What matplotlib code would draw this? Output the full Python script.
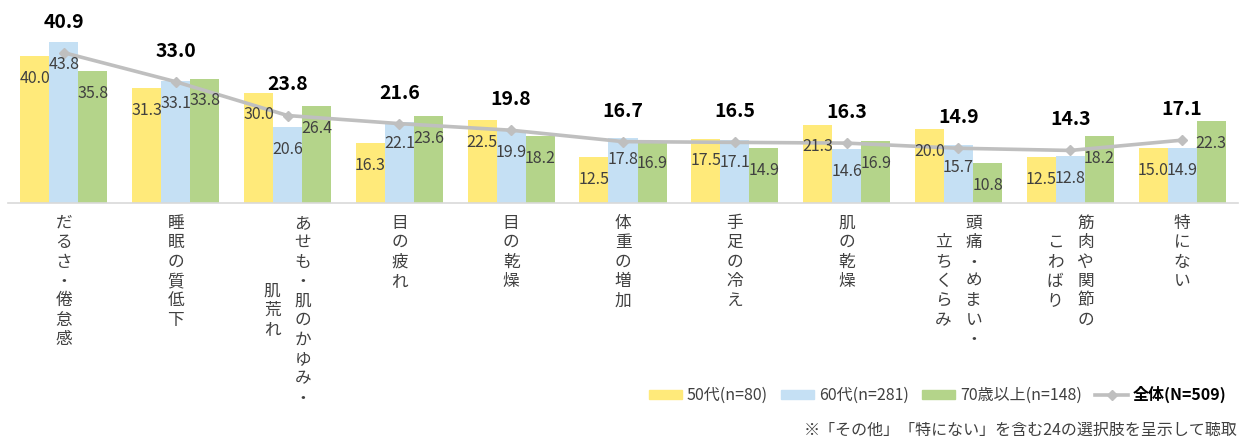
import matplotlib
matplotlib.use("Agg")
import matplotlib.pyplot as plt
from matplotlib.patches import Patch
from matplotlib.lines import Line2D
import numpy as np

plt.rcParams['font.family'] = ['Noto Sans CJK JP', 'DejaVu Sans']

# category labels, split into vertical columns (right column first)
label_cols = [['だるさ・倦怠感'], ['睡眠の質低下'], ['あせも・肌のかゆみ・', '肌荒れ'],
              ['目の疲れ'], ['目の乾燥'], ['体重の増加'], ['手足の冷え'], ['肌の乾燥'],
              ['頭痛・めまい・', '立ちくらみ'], ['筋肉や関節の', 'こわばり'], ['特にない']]
s50 = [40.0, 31.3, 30.0, 16.3, 22.5, 12.5, 17.5, 21.3, 20.0, 12.5, 15.0]
s60 = [43.8, 33.1, 20.6, 22.1, 19.9, 17.8, 17.1, 14.6, 15.7, 12.8, 14.9]
s70 = [35.8, 33.8, 26.4, 23.6, 18.2, 16.9, 14.9, 16.9, 10.8, 18.2, 22.3]
total = [40.9, 33.0, 23.8, 21.6, 19.8, 16.7, 16.5, 16.3, 14.9, 14.3, 17.1]
series_names = ['50代(n=80)', '60代(n=281)', '70歳以上(n=148)']
total_name = '全体(N=509)'
note = '※「その他」「特にない」を含む24の選択肢を呈示して聴取'

colors = ['#FFEA7A', '#C5E0F4', '#B4D48A']
line_color = '#BFBFBF'
txt = '#404040'

fig = plt.figure(figsize=(12.45, 4.4), dpi=100)
ax = fig.add_axes([0.0064, 0.5386, 0.988, 0.4595])

x = np.arange(len(total))
w = 0.26
for k, (vals, c) in enumerate(zip([s50, s60, s70], colors)):
    xs = x + (k - 1) * w
    ax.bar(xs, vals, width=w, color=c, zorder=2)
    for xi, v in zip(xs, vals):
        ax.annotate(f'{v:.1f}', (xi, v), xytext=(0, -16), textcoords='offset points',
                    ha='center', va='center', fontsize=11.5, color=txt, zorder=4)

ax.plot(x, total, color=line_color, lw=2.6, marker='D', ms=5, zorder=3)
for xi, v in zip(x, total):
    ax.annotate(f'{v:.1f}', (xi, v), xytext=(0, 22), textcoords='offset points',
                ha='center', va='center', fontsize=14, fontweight='bold', color='black', zorder=5)

ax.set_xlim(-0.5, len(total) - 0.5)
ax.set_ylim(0, 55)
ax.set_xticks([])
ax.set_yticks([])
for s in ['top', 'left', 'right']:
    ax.spines[s].set_visible(False)
ax.spines['bottom'].set_color('#D9D9D9')
ax.spines['bottom'].set_linewidth(1.2)

# vertical category labels, one character at a time
step = 14.0   # points between characters
colgap = 22.0  # points between columns
for i, cols in enumerate(label_cols):
    n = max(len(c) for c in cols)
    ncol = len(cols)
    for j, col in enumerate(cols):
        dx = ((ncol - 1) / 2 - j) * colgap
        off = (n - len(col)) / 2 * step
        for m, ch in enumerate(col):
            ax.annotate(ch, (i, 0), xytext=(dx, -14.5 - off - m * step),
                        textcoords='offset points', ha='center', va='center',
                        fontsize=12, color=txt, annotation_clip=False)

handles = [Patch(color=c) for c in colors]
handles.append(Line2D([0], [0], color=line_color, lw=2.6, marker='D', ms=5))
leg = fig.legend(handles, series_names + [total_name], loc='center right',
                 bbox_to_anchor=(0.997, 1 - 395 / 440), ncol=4, frameon=False,
                 fontsize=11.5, handlelength=2.1, handleheight=0.55,
                 handletextpad=0.3, columnspacing=0.8)
for t in leg.get_texts():
    t.set_color(txt)
leg.get_texts()[-1].set_fontweight('bold')
leg.get_texts()[-1].set_color('black')

fig.text(0.994, 1 - 430 / 440, note, ha='right', va='center', fontsize=11.5, color=txt)

fig.savefig('out.png', dpi=100, facecolor='white')
